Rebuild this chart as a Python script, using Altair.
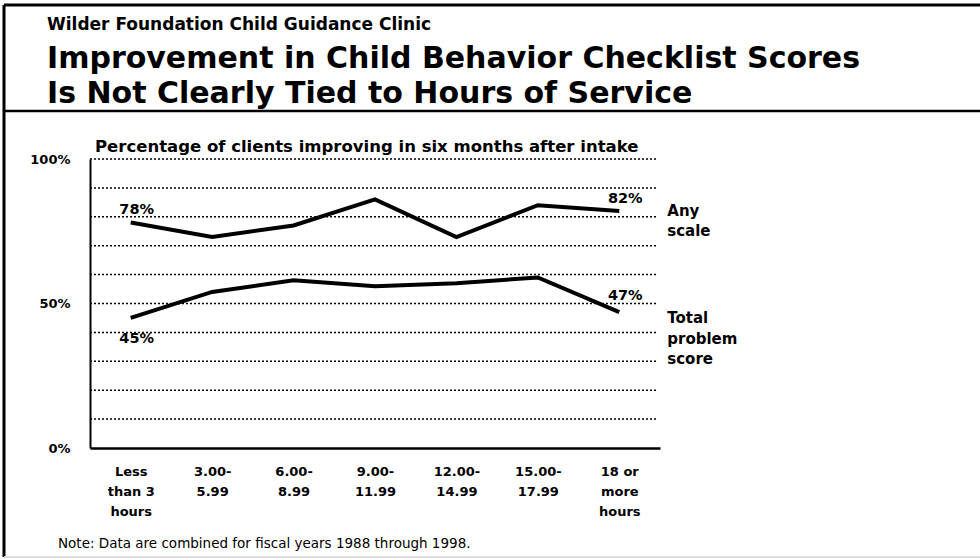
import altair as alt
import pandas as pd

# ---- data ----
categories = ["Less\nthan 3\nhours", "3.00-\n5.99", "6.00-\n8.99", "9.00-\n11.99",
              "12.00-\n14.99", "15.00-\n17.99", "18 or\nmore\nhours"]
any_scale = [78, 73, 77, 86, 73, 84, 82]
total_problem = [45, 54, 58, 56, 57, 59, 47]
series_names = ["Any\nscale", "Total\nproblem\nscore"]
y_ticks = [0, 10, 20, 30, 40, 50, 60, 70, 80, 90, 100]
y_labelled = [0, 50, 100]

subtitle = "Wilder Foundation Child Guidance Clinic"
title_lines = ["Improvement in Child Behavior Checklist Scores",
               "Is Not Clearly Tied to Hours of Service"]
y_caption = "Percentage of clients improving in six months after intake"
note = "Note:  Data are combined for fiscal years 1988 through 1998."

FONT = "DejaVu Sans"

df = pd.DataFrame({
    "hours": categories * 2,
    "pct": any_scale + total_problem,
    "series": [series_names[0]] * 7 + [series_names[1]] * 7,
})

x_enc = alt.X(
    "hours:N", sort=categories,
    scale=alt.Scale(type="point", padding=0.5),
    axis=alt.Axis(
        title=None, labelAngle=0, labelExpr="split(datum.label, '\\n')",
        labelFont=FONT, labelFontSize=13, labelFontWeight="bold", labelColor="black",
        labelLineHeight=20, labelPadding=17, labelBaseline="top", labelOverlap=False,
        ticks=False, domainColor="black", domainWidth=2.5, grid=False,
    ),
)
y_enc = alt.Y(
    "pct:Q",
    scale=alt.Scale(domain=[0, 100], nice=False),
    axis=alt.Axis(
        title=None, values=y_labelled, labelExpr="datum.value + '%'",
        labelFont=FONT, labelFontSize=13, labelFontWeight="bold", labelColor="black",
        labelPadding=20, labelOverlap=False, grid=False,
        ticks=False, domainColor="black", domainWidth=2,
    ),
)

grid = alt.Chart(pd.DataFrame({"pct": y_ticks[1:]})).mark_rule(
    color="black", strokeDash=[2, 2], strokeWidth=1.5
).encode(y=alt.Y("pct:Q"), x=alt.value(0), x2=alt.value(568))

lines = alt.Chart(df).mark_line(color="black", strokeWidth=4).encode(
    x=x_enc, y=y_enc, detail="series:N"
)


def point_label(cat, val, dx, dy):
    d = pd.DataFrame({"hours": [cat], "pct": [val], "lab": [f"{val}%"]})
    return alt.Chart(d).mark_text(
        font=FONT, fontSize=14.5, fontWeight="bold", color="black", dx=dx, dy=dy
    ).encode(
        x=alt.X("hours:N", sort=categories), y=alt.Y("pct:Q"), text="lab:N"
    )


labels = [
    point_label(categories[0], any_scale[0], 6, -13),
    point_label(categories[0], total_problem[0], 6, 21),
    point_label(categories[-1], any_scale[-1], 6, -12),
    point_label(categories[-1], total_problem[-1], 6, -16),
]

end_df = pd.DataFrame({
    "hours": [categories[-1]] * 2,
    "pct": [any_scale[-1], total_problem[-1]],
    "series": series_names,
})
any_name = alt.Chart(end_df.iloc[[0]]).mark_text(
    font=FONT, fontSize=15, fontWeight="bold", color="black", align="left",
    baseline="middle", lineBreak="\n", lineHeight=20, dx=48, dy=0
).encode(x=alt.X("hours:N", sort=categories), y="pct:Q", text="series:N")
tot_name = alt.Chart(end_df.iloc[[1]]).mark_text(
    font=FONT, fontSize=15, fontWeight="bold", color="black", align="left",
    baseline="middle", lineBreak="\n", lineHeight=20.5, dx=48, dy=6
).encode(x=alt.X("hours:N", sort=categories), y="pct:Q", text="series:N")

one = pd.DataFrame({"a": [0]})


def free_text(txt, x, y, size, weight="bold"):
    return alt.Chart(one).mark_text(
        text=txt, font=FONT, fontSize=size, fontWeight=weight, color="black",
        align="left", baseline="alphabetic"
    ).encode(x=alt.value(x), y=alt.value(y))


texts = [
    free_text(subtitle, -43, -129, 17),
    free_text(title_lines[0], -43, -91, 30),
    free_text(title_lines[1], -43, -56, 30),
    free_text(y_caption, 5, -7, 16.5),
    free_text(note, -32, 389, 13.5, "normal"),
]


def rule(x1, x2, y1, y2, color="black", w=3):
    return alt.Chart(one).mark_rule(color=color, strokeWidth=w).encode(
        x=alt.value(x1), x2=alt.value(x2), y=alt.value(y1), y2=alt.value(y2)
    )


frame = [
    rule(-86, -86, -154, 398, w=3),
    rule(-86, 890, -154, -154, w=3),
    rule(-86, 890, -48, -48, w=2.5),
    rule(-86, 890, 398, 398, color="#dddddd", w=2),
]

chart = alt.layer(grid, lines, *labels, any_name, tot_name, *texts, *frame).properties(
    width=570, height=289,
    padding={"left": 90, "top": 159, "right": 320, "bottom": 111},
    autosize=alt.AutoSizeParams(type="none"),
    background="white",
).configure_view(stroke=None)

chart.save("out.html", embed_options={"renderer": "svg", "actions": False})
